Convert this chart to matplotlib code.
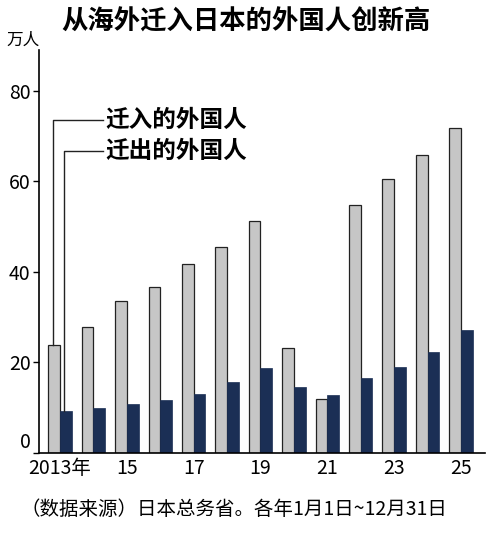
import matplotlib
matplotlib.use("Agg")
import matplotlib.pyplot as plt
import numpy as np

plt.rcParams['font.family'] = ['Noto Sans CJK SC', 'DejaVu Sans']

years = list(range(2013, 2026))
inflow = [23.8, 27.9, 33.6, 36.7, 41.7, 45.4, 51.3, 23.2, 12.0, 54.7, 60.5, 65.9, 71.9]
outflow = [9.3, 10.0, 10.8, 11.6, 13.1, 15.6, 18.7, 14.6, 12.7, 16.6, 19.0, 22.3, 27.1]
xlabels = ['2013年', '', '15', '', '17', '', '19', '', '21', '', '23', '', '25']

fig = plt.figure(figsize=(5, 5.34), dpi=100)
ax = fig.add_axes([0.078, 0.152, 0.892, 0.754])
x = np.arange(len(years))
w = 0.35
ax.bar(x - w/2, inflow, w, color='#c6c6c6', edgecolor='#222222', linewidth=0.9)
ax.bar(x + w/2, outflow, w, color='#1b2f55', edgecolor='#1b2f55', linewidth=0.5)
ax.set_xlim(-0.63, 12.72)
ax.set_ylim(0, 89)
ax.set_yticks([0, 20, 40, 60, 80])
ax.set_xticks(x)
ax.set_xticklabels(xlabels, fontsize=14)
ax.tick_params(axis='x', length=0, pad=4)
ax.tick_params(axis='y', labelsize=14, length=4, width=1, direction='out', pad=2)
ax.get_yticklabels()[0].set_va('bottom')
for s in ['top', 'right']:
    ax.spines[s].set_visible(False)
ax.spines['left'].set_linewidth(1.2)
ax.spines['bottom'].set_linewidth(1.2)

# legend callouts
gx = x[0] - w/2 - 0.03
dx = x[0] + w/2 - 0.05
ax.plot([gx, gx, 1.3], [inflow[0], 73.5, 73.5], color='#222222', lw=1)
ax.plot([dx, dx, 1.3], [outflow[0], 66.8, 66.8], color='#222222', lw=1)
ax.text(1.35, 73.5, '迁入的外国人', fontsize=17, fontweight='bold', va='center')
ax.text(1.35, 66.8, '迁出的外国人', fontsize=17, fontweight='bold', va='center')

fig.text(0.122, 0.958, '从海外迁入日本的外国人创新高', fontsize=19, fontweight='bold', va='center')
fig.text(0.012, 0.925, '万人', fontsize=12, va='center')
fig.text(0.04, 0.045, '（数据来源）日本总务省。各年1月1日~12月31日', fontsize=14, va='center')

fig.savefig('out.png', dpi=100)
